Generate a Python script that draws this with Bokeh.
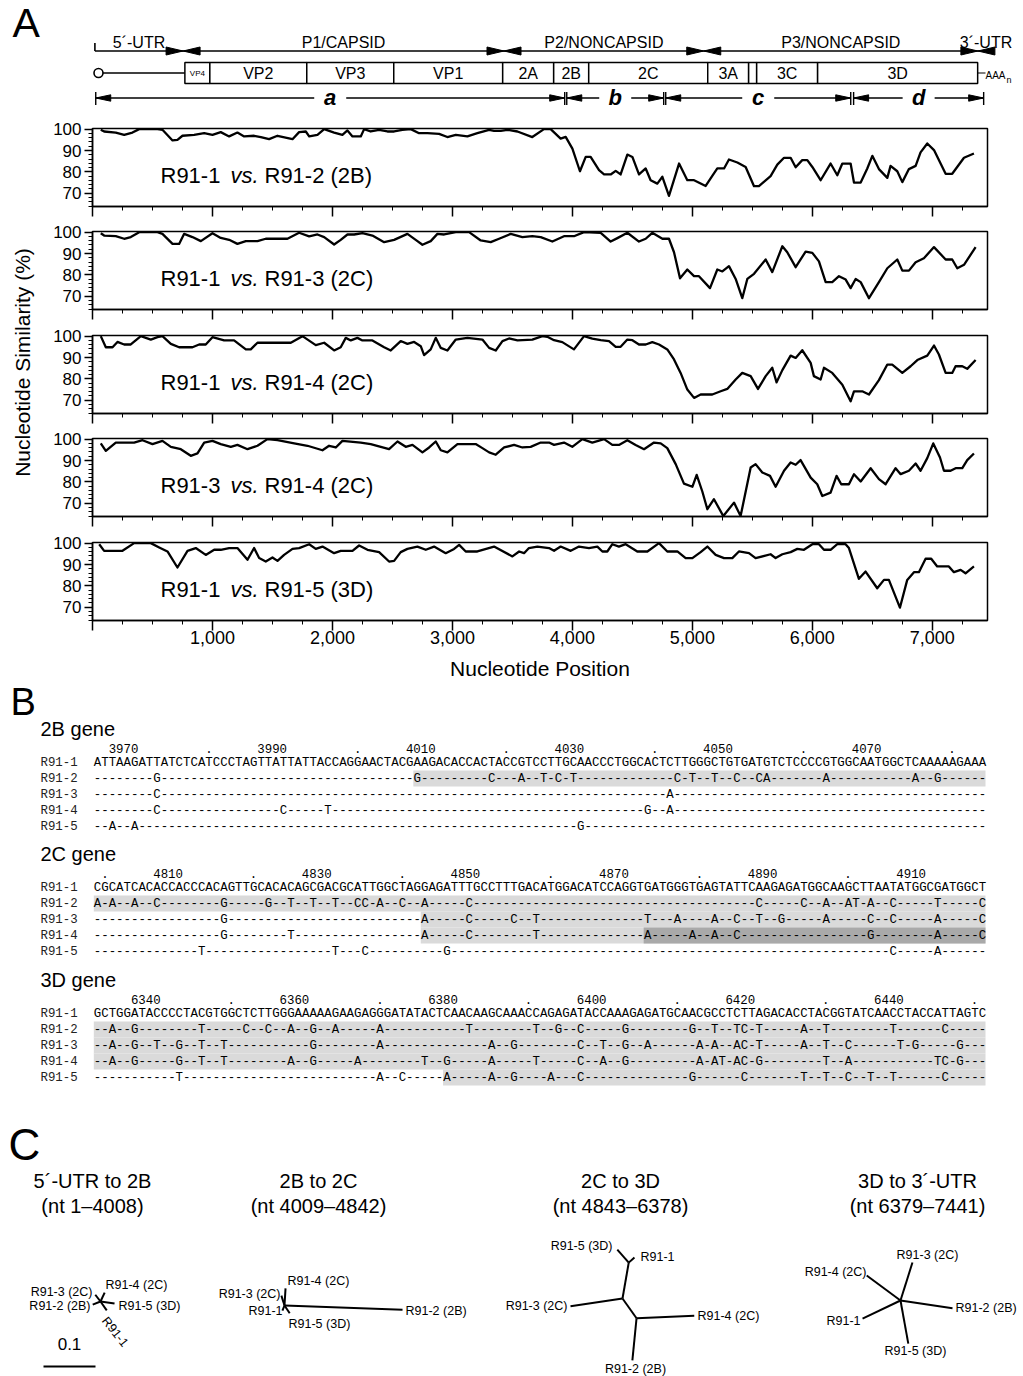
import math
from bokeh.plotting import figure
from bokeh.models import Range1d, Label, FixedTicker, NumeralTickFormatter
from bokeh.layouts import column, row
from bokeh.embed import file_html
from bokeh.resources import INLINE
from bokeh.core.properties import value

SANS = "Liberation Sans"
MONO = "Liberation Mono"

# ------------------------------------------------------------------ data: A (genome map)
regions = ["5´-UTR", "P1/CAPSID", "P2/NONCAPSID", "P3/NONCAPSID", "3´-UTR"]
region_start = [20, 755, 3430, 5095, 7380]
region_end = [755, 3430, 5095, 7380, 7515]
genes = ["VP4", "VP2", "VP3", "VP1", "2A", "2B", "2C", "3A", "", "3C", "3D"]
gene_start = [770, 978, 1786, 2511, 3419, 3844, 4136, 5128, 5469, 5536, 6044]
gene_end = [978, 1786, 2511, 3419, 3844, 4136, 5128, 5469, 5536, 6044, 7378]
segments = ["a", "b", "c", "d"]
seg_start = [27, 3953, 4778, 6344]
seg_end = [3936, 4761, 6320, 7428]

# ------------------------------------------------------------------ data: A (similarity plots)
sim_12 = [(69,99.7),(97,98.9),(194,98.4),(264,97.3),(333,98.4),(389,100),(542,100),(583,99.7),(667,94.7),(708,95.0),
 (750,96.9),(847,97.3),(931,98.1),(1000,97.3),(1069,98.6),(1139,96.6),(1208,98.4),(1264,96.6),(1347,96.9),(1403,96.3),
 (1472,95.3),(1542,96.9),(1667,95.3),(1722,98.6),(1778,98.9),(1806,96.6),(1875,97.3),(1931,100),(2014,98.4),(2083,97.3),
 (2125,99.4),(2167,96.6),(2236,96.6),(2264,100),(2319,98.9),(2389,99.7),(2458,98.9),(2514,98.9),(2583,99.7),(2653,100),
 (2722,98.1),(2792,98.1),(2889,97.8),(2958,96.3),(3028,97.3),(3125,96.6),(3208,98.1),(3306,99.7),(3347,99.2),(3403,99.2),
 (3458,99.7),(3542,98.9),(3666,96.3),(3763,100),(3819,100),(3902,95.6),(3944,96.4),(4000,90.9),(4063,80.3),(4111,87.0),
 (4152,87.0),(4222,80.8),(4264,78.8),(4319,78.8),(4361,80.5),(4402,78.8),(4458,88.1),(4500,87.0),(4555,78.8),(4611,81.6),
 (4652,76.1),(4708,74.5),(4750,77.7),(4805,68.8),(4889,83.9),(4958,76.1),(5014,76.1),(5111,73.4),(5166,78.1),(5208,81.6),
 (5264,81.6),(5305,85.8),(5375,84.4),(5444,82.3),(5514,73.3),(5555,73.3),(5652,78.0),(5708,83.4),(5764,86.6),(5819,86.6),
 (5861,82.2),(5916,85.5),(5958,85.5),(6000,82.3),(6069,76.1),(6152,83.9),(6208,78.4),(6250,83.9),(6319,83.9),(6347,75.0),
 (6403,75.0),(6458,81.6),(6500,87.5),(6555,81.3),(6625,77.2),(6652,82.8),(6708,80.3),(6750,75.2),(6805,81.3),(6861,82.8),
 (6902,89.1),(6958,93.3),(7014,90.2),(7111,79.1),(7166,79.1),(7264,86.6),(7347,88.6)]

sim_13 = [(69,99.5),(97,98.4),(194,98.1),(264,96.9),(319,97.7),(389,100),(542,100),(583,99.2),(667,94.5),(722,94.5),
 (764,99.2),(833,97.7),(903,95.8),(1000,99.5),(1069,97.3),(1139,96.4),(1208,94.5),(1278,95.8),(1375,95.8),(1444,96.9),
 (1625,96.9),(1722,99.7),(1806,98.0),(1875,98.9),(1931,97.7),(2014,94.2),(2069,96.4),(2125,98.9),(2181,98.9),(2250,99.5),
 (2333,98.4),(2431,95.3),(2514,96.4),(2625,99.2),(2694,96.4),(2750,94.1),(2819,95.8),(2875,99.2),(2931,98.9),(3028,100),
 (3139,100),(3236,96.1),(3319,95.3),(3389,96.9),(3486,99.2),(3583,97.7),(3666,98.1),(3736,97.7),(3833,95.6),(3930,98.1),
 (4013,98.1),(4097,100),(4236,99.7),(4319,95.6),(4375,97.2),(4458,99.7),(4555,95.6),(4611,96.9),(4666,99.7),(4750,96.9),
 (4805,96.9),(4847,90.6),(4897,78.4),(4958,82.5),(5014,79.4),(5055,79.4),(5147,73.8),(5208,82.5),(5250,81.6),(5305,84.1),
 (5361,78.1),(5416,69.1),(5458,78.1),(5514,80.5),(5611,87.2),(5666,81.3),(5750,93.4),(5791,90.6),(5861,83.6),(5944,90.9),
 (6000,90.3),(6055,86.3),(6111,76.6),(6166,76.6),(6222,79.4),(6278,77.8),(6319,73.8),(6361,78.1),(6403,76.6),(6472,69.1),
 (6555,76.6),(6625,83.1),(6708,87.2),(6750,82.0),(6805,82.0),(6861,85.9),(6930,87.8),(7014,93.0),(7111,87.2),(7166,87.2),
 (7208,83.1),(7264,84.7),(7361,93.0)]

sim_14 = [(69,100),(111,94.8),(167,94.8),(208,97.3),(264,96.1),(319,96.1),(403,100),(486,98.4),(542,99.5),(583,100),
 (653,96.4),(722,94.8),(833,94.8),(889,96.1),(944,96.1),(1000,99.5),(1097,98.0),(1180,98.0),(1278,93.8),(1319,93.8),
 (1375,96.9),(1458,96.9),(1653,96.9),(1750,100),(1861,95.8),(1931,96.9),(2014,93.3),(2069,94.8),(2111,99.2),(2153,98.0),
 (2208,99.2),(2250,98.0),(2333,98.0),(2431,94.8),(2486,93.3),(2569,97.7),(2625,96.4),(2681,97.3),(2736,95.3),(2764,91.1),
 (2819,93.8),(2861,99.2),(2903,94.5),(2958,93.3),(3028,98.4),(3125,99.2),(3250,98.4),(3306,94.5),(3361,93.3),(3417,97.7),
 (3472,98.9),(3542,98.0),(3666,98.4),(3750,100),(3791,99.7),(3847,98.1),(3916,97.2),(4013,93.8),(4097,100),(4166,98.8),
 (4236,98.1),(4305,97.7),(4361,95.0),(4402,95.0),(4458,98.4),(4500,98.1),(4555,96.1),(4611,96.1),(4666,97.2),(4722,96.1),
 (4791,93.8),(4847,89.1),(4902,82.8),(4958,75.0),(5014,71.1),(5069,72.7),(5166,72.7),(5236,74.2),(5291,75.3),(5361,79.7),
 (5416,82.8),(5486,81.3),(5547,75.3),(5611,81.3),(5666,85.2),(5702,78.4),(5750,84.1),(5819,90.9),(5861,89.8),(5916,93.4),
 (5986,87.5),(6013,81.3),(6069,79.7),(6097,85.2),(6166,82.8),(6250,77.3),(6319,69.5),(6347,74.2),(6416,74.2),(6472,72.7),
 (6555,79.4),(6625,86.7),(6666,86.7),(6750,82.8),(6819,85.9),(6875,88.8),(6958,90.9),(7014,95.6),(7055,91.4),(7111,82.8),
 (7166,82.8),(7194,85.9),(7250,85.9),(7291,84.7),(7361,88.8)]

sim_34 = [(69,98.0),(111,94.5),(194,98.4),(347,98.4),(417,99.5),(500,97.7),(583,99.2),(653,96.4),(736,95.3),(819,92.2),
 (875,93.3),(931,98.4),(1000,99.2),(1069,97.7),(1153,96.4),(1208,97.3),(1292,95.3),(1375,96.9),(1458,100),(1542,99.5),
 (1681,98.0),(1792,96.9),(1917,94.8),(1972,96.9),(2028,96.1),(2083,99.2),(2236,98.4),(2319,97.7),(2472,95.3),(2542,98.9),
 (2611,96.4),(2667,97.3),(2750,93.8),(2806,96.1),(2861,98.9),(2903,94.8),(2958,93.8),(3042,97.7),(3194,97.7),(3250,95.8),
 (3306,93.8),(3361,92.7),(3431,96.1),(3514,97.3),(3583,96.1),(3652,96.4),(3736,98.4),(3805,98.4),(3847,97.3),(3930,98.4),
 (3999,96.4),(4083,100),(4166,98.4),(4264,100),(4333,97.3),(4388,97.3),(4458,99.5),(4527,97.3),(4597,95.3),(4680,98.4),
 (4736,98.0),(4791,95.8),(4861,88.3),(4930,79.2),(5000,77.7),(5036,83.3),(5083,75.5),(5125,67.2),(5180,71.9),(5258,64.0),
 (5347,70.3),(5402,64.0),(5486,86.7),(5527,88.3),(5583,84.4),(5647,82.8),(5694,77.7),(5764,85.2),(5819,89.1),(5861,88.0),
 (5902,90.2),(5986,82.0),(6041,78.9),(6083,73.4),(6152,75.0),(6202,82.8),(6241,78.9),(6305,78.9),(6347,83.6),(6403,80.2),
 (6486,86.4),(6555,81.3),(6611,78.9),(6694,86.4),(6736,83.6),(6805,85.2),(6861,88.6),(6902,85.2),(6958,91.1),(7008,98.0),
 (7064,91.4),(7097,85.2),(7152,85.2),(7194,86.4),(7250,86.4),(7291,90.2),(7347,93.3)]

sim_15 = [(56,99.5),(97,96.4),(250,96.4),(347,100),(486,100),(556,98.0),(625,96.1),(708,88.6),(792,96.4),(861,97.7),
 (944,94.5),(1014,96.9),(1069,96.9),(1139,97.7),(1208,97.7),(1292,92.2),(1347,97.7),(1389,93.0),(1444,91.4),(1500,93.3),
 (1542,91.7),(1597,94.5),(1667,97.3),(1722,97.7),(1806,99.5),(1861,97.3),(1917,98.4),(2014,95.3),(2069,96.4),(2167,96.4),
 (2222,98.9),(2292,96.9),(2389,95.8),(2472,91.4),(2514,91.7),(2569,95.8),(2625,97.3),(2708,98.4),(2778,96.9),(2847,98.4),
 (2944,95.3),(3014,97.3),(3056,99.2),(3111,96.1),(3208,96.1),(3347,98.4),(3500,93.8),(3556,96.1),(3597,95.3),(3638,97.7),
 (3708,98.4),(3805,97.7),(3847,96.4),(3902,98.4),(3986,96.4),(4055,98.4),(4138,97.7),(4208,98.4),(4250,96.1),(4291,96.1),
 (4333,99.5),(4388,98.4),(4444,99.5),(4541,96.1),(4625,96.1),(4722,100),(4791,96.1),(4875,96.1),(4944,93.0),(5000,93.0),
 (5069,95.8),(5125,98.4),(5194,94.5),(5264,93.0),(5333,93.0),(5388,96.1),(5472,95.3),(5527,93.0),(5652,94.8),(5694,93.0),
 (5750,94.8),(5819,95.8),(5875,97.3),(5930,96.9),(6000,99.5),(6055,99.5),(6097,96.9),(6152,96.9),(6208,99.5),(6277,99.5),
 (6305,97.7),(6388,83.3),(6444,86.7),(6541,78.9),(6597,82.8),(6638,82.8),(6730,69.8),(6791,82.8),(6847,86.4),(6888,86.4),
 (6944,92.7),(6991,92.7),(7041,89.1),(7138,89.1),(7180,86.4),(7236,87.5),(7277,85.9),(7347,89.1)]

sim_series = [sim_12, sim_13, sim_14, sim_34, sim_15]
pair_a = ["R91-1", "R91-1", "R91-1", "R91-3", "R91-1"]
pair_b = ["R91-2 (2B)", "R91-3 (2C)", "R91-4 (2C)", "R91-4 (2C)", "R91-5 (3D)"]
x_major = [0, 1000, 2000, 3000, 4000, 5000, 6000, 7000]
y_major = [70, 80, 90, 100]

# ------------------------------------------------------------------ data: B (alignments)
strains = ["R91-1", "R91-2", "R91-3", "R91-4", "R91-5"]
blk_names = ["2B gene", "2C gene", "3D gene"]
blk_start = [3965, 4799, 6332]
blk_numbers = [[3970, 3990, 4010, 4030, 4050, 4070],
               [4810, 4830, 4850, 4870, 4890, 4910],
               [6340, 6360, 6380, 6400, 6420, 6440]]
ref_2B = "ATTAAGATTATCTCATCCCTAGTTATTATTACCAGGAACTACGAAGACACCACTACCGTCCTTGCAACCCTGGCACTCTTGGGCTGTGATGTCTCCCCGTGGCAATGGCTCAAAAAGAAA"
ref_2C = "CGCATCACACCACCCACAGTTGCACACAGCGACGCATTGGCTAGGAGATTTGCCTTTGACATGGACATCCAGGTGATGGGTGAGTATTCAAGAGATGGCAAGCTTAATATGGCGATGGCT"
ref_3D = "GCTGGATACCCCTACGTGGCTCTTGGGAAAAAGAAGAGGGATATACTCAACAAGCAAACCAGAGATACCAAAGAGATGCAACGCCTCTTAGACACCTACGGTATCAACCTACCATTAGTC"
mut_2B = [
    {8: "G", 43: "G", 53: "C", 57: "A", 60: "T", 62: "C", 64: "T", 78: "C", 80: "T", 83: "T", 86: "C", 89: "C", 90: "A", 98: "A", 110: "A", 113: "G"},
    {8: "C", 77: "A"},
    {8: "C", 25: "C", 31: "T", 74: "G", 77: "A"},
    {2: "A", 5: "A", 65: "G"},
]
mut_2C = [
    {0: "A", 2: "A", 5: "A", 8: "C", 17: "G", 23: "G", 26: "T", 29: "T", 32: "T", 35: "C", 36: "C", 38: "A", 41: "C", 44: "A", 50: "C",
     89: "C", 95: "C", 98: "A", 101: "A", 102: "T", 104: "A", 107: "C", 113: "T", 119: "C"},
    {17: "G", 44: "A", 50: "C", 56: "C", 59: "T", 74: "T", 78: "A", 83: "A", 86: "C", 89: "T", 92: "G", 98: "A", 104: "C", 107: "C", 113: "A", 119: "C"},
    {17: "G", 26: "T", 44: "A", 50: "C", 59: "T", 74: "A", 80: "A", 83: "A", 86: "C", 104: "G", 113: "A", 119: "C"},
    {14: "T", 32: "T", 36: "C", 47: "G", 107: "C", 113: "A"},
]
mut_3D = [
    {2: "A", 5: "G", 14: "T", 20: "C", 23: "C", 26: "A", 29: "G", 32: "A", 38: "A", 50: "T", 59: "T", 62: "G", 65: "C", 71: "G",
     80: "G", 83: "T", 86: "T", 87: "C", 89: "T", 95: "A", 98: "T", 107: "T", 114: "C"},
    {2: "A", 5: "G", 8: "T", 11: "G", 14: "T", 17: "T", 29: "G", 38: "A", 53: "A", 56: "G", 65: "C", 68: "T", 71: "G", 74: "A",
     81: "A", 83: "A", 86: "A", 87: "C", 89: "T", 95: "A", 98: "T", 101: "C", 108: "T", 110: "G", 116: "G"},
    {2: "A", 5: "G", 11: "G", 14: "T", 17: "T", 26: "A", 29: "G", 35: "A", 44: "T", 47: "G", 53: "A", 59: "T", 65: "C", 68: "A",
     71: "G", 81: "A", 83: "A", 84: "T", 86: "A", 87: "C", 89: "G", 98: "T", 101: "A", 113: "T", 114: "C", 116: "G"},
    {11: "T", 38: "A", 41: "C", 47: "A", 53: "A", 56: "G", 61: "A", 65: "C", 80: "G", 87: "C", 95: "T", 98: "T", 101: "C", 104: "T", 107: "T", 114: "C"},
]
blk_refs = [ref_2B, ref_2C, ref_3D]
blk_muts = [mut_2B, mut_2C, mut_3D]
# shaded stretches: (strain row, first column, last column + 1, tone)
blk_shade = [
    [(1, 43, 120, "light")],
    [(1, 0, 120, "light"), (2, 44, 120, "light"), (3, 44, 120, "light"), (3, 74, 120, "dark")],
    [(1, 0, 120, "light"), (2, 0, 120, "light"), (3, 0, 120, "light"), (4, 47, 120, "light")],
]

# ------------------------------------------------------------------ data: C (trees, branch-length units)
tree_titles = ["5´-UTR to 2B", "2B to 2C", "2C to 3D", "3D to 3´-UTR"]
tree_spans = ["(nt 1–4008)", "(nt 4009–4842)", "(nt 4843–6378)", "(nt 6379–7441)"]
tree_nodes = [
    {"r": (0, 0), "R91-3": (-0.010, -0.013), "R91-4": (0.008, -0.017), "R91-2": (-0.015, 0.006), "R91-5": (0.027, 0.004), "R91-1": (0.012, 0.017)},
    {"r": (0, 0), "R91-4": (0.002, -0.033), "R91-3": (-0.006, -0.019), "R91-1": (-0.004, 0.010), "R91-5": (0.010, 0.015), "R91-2": (0.227, 0.008)},
    {"r": (0, 0), "n1": (0.012, -0.069), "R91-5": (-0.010, -0.094), "R91-1": (0.023, -0.079), "R91-3": (-0.100, 0.015),
     "n2": (0.027, 0.038), "R91-4": (0.138, 0.033), "R91-2": (0.019, 0.119)},
    {"r": (0, 0), "R91-3": (0.023, -0.073), "R91-4": (-0.065, -0.048), "R91-2": (0.100, 0.015), "R91-1": (-0.073, 0.035), "R91-5": (0.015, 0.083)},
]
tree_edges = [
    [("r", "R91-3"), ("r", "R91-4"), ("r", "R91-2"), ("r", "R91-5"), ("r", "R91-1")],
    [("r", "R91-4"), ("r", "R91-3"), ("r", "R91-1"), ("r", "R91-5"), ("r", "R91-2")],
    [("r", "n1"), ("n1", "R91-5"), ("n1", "R91-1"), ("r", "R91-3"), ("r", "n2"), ("n2", "R91-4"), ("n2", "R91-2")],
    [("r", "R91-3"), ("r", "R91-4"), ("r", "R91-2"), ("r", "R91-1"), ("r", "R91-5")],
]
tip_names = {"R91-1": "R91-1", "R91-2": "R91-2 (2B)", "R91-3": "R91-3 (2C)", "R91-4": "R91-4 (2C)", "R91-5": "R91-5 (3D)"}
scale_bar = 0.1

# ------------------------------------------------------------------ layout constants (page pixels)
W = 1023
X0, X1 = 0, 7460
FL, FR = 92, 987          # panel frame left / right edges on the page
FW = FR - FL
PPN = FW / (X1 - X0)
YLO, YHI = 63.8, 100.3
FH = 78
YPX = FH / (YHI - YLO)
YL_W = 38                 # width of the strip holding the y-axis title


def nt_at(px):
    return X0 + (px - FL) / PPN


def canvas(w, h, xr, yr):
    p = figure(width=w, height=h, x_range=xr, y_range=yr, title=None,
               output_backend="svg", toolbar_location=None,
               x_axis_location=None, y_axis_location=None, min_border=0)
    p.xgrid.visible = False
    p.ygrid.visible = False
    p.outline_line_color = None
    p.background_fill_color = "white"
    p.border_fill_color = "white"
    return p


def txt(p, x, y, s, size, align="center", baseline="middle", style="normal", font=SANS, angle=0.0, color="black"):
    p.text(x=[x], y=[y], text=[s], text_font=value(font), text_font_size=value(size),
           text_align=align, text_baseline=baseline, text_font_style=style, angle=angle, text_color=color)


# ------------------------------------------------------------------ top strip: genome map
TOP_H = 118
top = canvas(W, TOP_H, Range1d(nt_at(0), nt_at(W)), Range1d(TOP_H, 0))
txt(top, nt_at(12), 22.5, "A", "41px", align="left")

YR = 50.5
HL, HH = 17 / PPN, 4.0
top.segment(x0=region_start, x1=region_end, y0=[YR] * 5, y1=[YR] * 5, line_color="black", line_width=1.6)
hx, hy = [], []
for i, (s, e) in enumerate(zip(region_start, region_end)):
    if i > 0:
        hx.append([s, s + HL, s + HL]); hy.append([YR, YR - HH, YR + HH])
    if i < len(regions) - 1:
        hx.append([e, e - HL, e - HL]); hy.append([YR, YR - HH, YR + HH])
top.patches(xs=hx, ys=hy, fill_color="black", line_color="black", line_width=1)
top.segment(x0=[region_start[0]], x1=[region_start[0]], y0=[YR - 8], y1=[YR], line_color="black", line_width=1.6)
for i, name in enumerate(regions):
    txt(top, (region_start[i] + region_end[i]) / 2, 41.5, name, "16px")

GY0, GY1 = 62, 83
gmid = (GY0 + GY1) / 2
top.segment(x0=[nt_at(98)], x1=[gene_start[0]], y0=[gmid], y1=[gmid], line_color="black", line_width=1.6)
top.quad(left=gene_start, right=gene_end, top=[GY0] * len(genes), bottom=[GY1] * len(genes),
         fill_color="white", line_color="black", line_width=1.5)
top.scatter(x=[nt_at(98)], y=[gmid], marker="circle", size=9, fill_color="white", line_color="black", line_width=1.6)
for i, g in enumerate(genes):
    if g:
        txt(top, (gene_start[i] + gene_end[i]) / 2, gmid + 0.5, g, "8px" if g == "VP4" else "16px")
top.segment(x0=[gene_end[-1]], x1=[nt_at(985)], y0=[gmid], y1=[gmid], line_color="black", line_width=1.2)
txt(top, nt_at(985), gmid + 2, "AAA", "10px", align="left")
txt(top, nt_at(1006), gmid + 7, "n", "9px", align="left")

SY = 97.5
GAP = 16 / PPN
HL2, HH2 = 15 / PPN, 3.2
sx0, sx1, ax, ay = [], [], [], []
for s, e, lab in zip(seg_start, seg_end, segments):
    m = (s + e) / 2
    sx0 += [s, m + GAP]; sx1 += [m - GAP, e]
    ax.append([s, s + HL2, s + HL2]); ay.append([SY, SY - HH2, SY + HH2])
    ax.append([e, e - HL2, e - HL2]); ay.append([SY, SY - HH2, SY + HH2])
    txt(top, m, SY - 1, lab, "22px", style="bold italic")
top.segment(x0=sx0, x1=sx1, y0=[SY] * len(sx0), y1=[SY] * len(sx0), line_color="black", line_width=1.4)
top.patches(xs=ax, ys=ay, fill_color="black", line_color="black", line_width=1)
ticks_x = seg_start + seg_end
top.segment(x0=ticks_x, x1=ticks_x, y0=[SY - 6] * len(ticks_x), y1=[SY + 7] * len(ticks_x), line_color="black", line_width=1.4)

# ------------------------------------------------------------------ similarity panels
xr = Range1d(X0, X1)
panel_h = [103, 104, 103, 104, 121]
panels = []
x_minor = [t for t in range(250, 7500, 250) if t % 1000 != 0]
y_minor = list(range(64, 100, 2))
for i, series in enumerate(sim_series):
    h = panel_h[i]
    last = i == len(sim_series) - 1
    p = figure(width=W - YL_W, height=h, x_range=xr, y_range=Range1d(YLO, YHI), title=None,
               output_backend="svg", toolbar_location=None,
               min_border_left=FL - YL_W, min_border_right=W - FR, min_border_top=10, min_border_bottom=h - 10 - FH)
    p.xgrid.visible = False
    p.ygrid.visible = False
    p.outline_line_color = "black"
    p.outline_line_width = 1.5
    p.background_fill_color = "white"
    p.border_fill_color = "white"
    xs = [a for a, b in series]
    ys = [b for a, b in series]
    p.line(xs, ys, line_color="black", line_width=2.3, line_join="round")

    ya = p.yaxis[0]
    ya.ticker = FixedTicker(ticks=y_major, minor_ticks=y_minor)
    ya.major_tick_out = 8; ya.major_tick_in = 0
    ya.minor_tick_out = 4; ya.minor_tick_in = 0
    ya.axis_line_width = 1.5; ya.major_tick_line_width = 1.5; ya.minor_tick_line_width = 1
    ya.major_label_text_font = SANS; ya.major_label_text_font_size = "17px"
    ya.major_label_text_color = "black"; ya.major_label_standoff = 3

    xa = p.xaxis[0]
    xa.ticker = FixedTicker(ticks=x_major, minor_ticks=x_minor)
    xa.major_tick_out = 10; xa.major_tick_in = 0
    xa.minor_tick_out = 4; xa.minor_tick_in = 0
    xa.axis_line_width = 1.5; xa.major_tick_line_width = 1.5; xa.minor_tick_line_width = 1
    if last:
        xa.formatter = NumeralTickFormatter(format="0,0")
        xa.major_label_overrides = {0: ""}
        xa.major_label_text_font = SANS; xa.major_label_text_font_size = "18px"
        xa.major_label_text_color = "black"; xa.major_label_standoff = 0
    else:
        xa.major_label_overrides = {t: "" for t in x_major}
        xa.major_label_text_font_size = "0px"
        xa.major_label_standoff = 0

    ly = YHI - 47 / YPX
    lx = nt_at(160)
    p.add_layout(Label(x=lx, y=ly, text=pair_a[i], text_font=SANS, text_font_size="22px",
                       text_baseline="middle", text_color="black"))
    p.add_layout(Label(x=lx, y=ly, x_offset=70, text="vs.", text_font=SANS, text_font_size="22px",
                       text_font_style="italic", text_baseline="middle", text_color="black"))
    p.add_layout(Label(x=lx, y=ly, x_offset=104, text=pair_b[i], text_font=SANS, text_font_size="22px",
                       text_baseline="middle", text_color="black"))
    panels.append(p)

P_BOT = TOP_H + sum(panel_h)
ylab = canvas(YL_W, sum(panel_h), Range1d(0, YL_W), Range1d(P_BOT, TOP_H))
txt(ylab, 22, 362, "Nucleotide Similarity (%)", "21px", angle=math.pi / 2)

# ------------------------------------------------------------------ B: alignments (+ x-axis title of A)
B_TOP = P_BOT
B_BOT = 1100
figB = canvas(W, B_BOT - B_TOP, Range1d(0, W), Range1d(B_BOT, B_TOP))
txt(figB, (FL + FR) / 2, 668, "Nucleotide Position", "21px")
txt(figB, 10, 701.5, "B", "38px", align="left")
SX = 93.3
NCH = 120
CW = (985.0 - SX) / NCH
RS = 16
blk_y = [728, 853, 979]
shade_col = {"light": "#dadada", "dark": "#a9a9a9"}
for b in range(3):
    gy = blk_y[b]
    ruler_y = gy + 20
    row0 = gy + 34
    rows_y = [row0 + k * RS for k in range(5)]
    txt(figB, 40, gy, blk_names[b], "20px", align="left")
    for (r, c0, c1, tone) in blk_shade[b]:
        figB.quad(left=[SX + c0 * CW], right=[SX + c1 * CW], top=[rows_y[r] - RS / 2], bottom=[rows_y[r] + RS / 2],
                  fill_color=shade_col[tone], line_color=None)
    start = blk_start[b]
    dots_x = []
    for k in range(NCH):
        pos = start + k
        if pos % 10 == 0:
            if pos in blk_numbers[b]:
                txt(figB, SX + (k + 1) * CW, ruler_y, str(pos), "12.4px", align="right", font=MONO)
            else:
                dots_x.append(SX + (k + 0.5) * CW)
    figB.text(x=dots_x, y=[ruler_y] * len(dots_x), text=["."] * len(dots_x), text_font=value(MONO),
              text_font_size=value("12.4px"), text_align="center", text_baseline="middle")
    seqs = [blk_refs[b]]
    for m in blk_muts[b]:
        chars = ["-"] * NCH
        for idx, ch in m.items():
            chars[idx] = ch
        seqs.append("".join(chars))
    figB.text(x=[40] * 5, y=rows_y, text=strains, text_font=value(MONO), text_font_size=value("12.4px"),
              text_align="left", text_baseline="middle", text_color="#222222")
    figB.text(x=[SX] * 5, y=rows_y, text=seqs, text_font=value(MONO), text_font_size=value("12.4px"),
              text_align="left", text_baseline="middle", text_color="black")

# ------------------------------------------------------------------ C: trees
U = 520.0
C_TOP, C_BOT = B_BOT, 1376
figC = canvas(W, C_BOT - C_TOP, Range1d(0, W / U), Range1d(C_BOT / U, C_TOP / U))
txt(figC, 8 / U, 1144 / U, "C", "44px", align="left")
title_cx = [92, 318, 620, 917]
for k in range(4):
    txt(figC, title_cx[k] / U, 1180 / U, tree_titles[k], "20px")
    txt(figC, title_cx[k] / U, 1205 / U, tree_spans[k], "20px")

tree_root_px = [(100, 1301), (284, 1305), (622, 1298), (900, 1300)]
tree_labels = [
    [("R91-3", 92, 1291, "right", 0.0), ("R91-4", 105, 1284, "left", 0.0), ("R91-2", 90, 1305, "right", 0.0),
     ("R91-5", 118, 1305, "left", 0.0), ("R91-1", 104, 1318, "left", -0.9)],
    [("R91-4", 287, 1280, "left", 0.0), ("R91-3", 280, 1293, "right", 0.0), ("R91-1", 282, 1310, "right", 0.0),
     ("R91-5", 288, 1323, "left", 0.0), ("R91-2", 405, 1310, "left", 0.0)],
    [("R91-5", 612, 1245, "right", 0.0), ("R91-1", 640, 1256, "left", 0.0), ("R91-3", 567, 1305, "right", 0.0),
     ("R91-4", 697, 1315, "left", 0.0), ("R91-2", 635, 1368, "center", 0.0)],
    [("R91-3", 927, 1254, "center", 0.0), ("R91-4", 866, 1271, "right", 0.0), ("R91-2", 955, 1307, "left", 0.0),
     ("R91-1", 860, 1320, "right", 0.0), ("R91-5", 915, 1350, "center", 0.0)],
]
for k in range(4):
    rx, ry = tree_root_px[k][0] / U, tree_root_px[k][1] / U
    nodes = tree_nodes[k]
    x0 = [rx + nodes[a][0] for a, b in tree_edges[k]]
    y0 = [ry + nodes[a][1] for a, b in tree_edges[k]]
    x1 = [rx + nodes[b][0] for a, b in tree_edges[k]]
    y1 = [ry + nodes[b][1] for a, b in tree_edges[k]]
    figC.segment(x0=x0, y0=y0, x1=x1, y1=y1, line_color="black", line_width=2)
    for (tip, lx, lyy, al, ang) in tree_labels[k]:
        txt(figC, lx / U, lyy / U, tip_names[tip], "12.5px", align=al, baseline="middle", angle=ang)

sb_x0, sb_y = 43 / U, 1366 / U
figC.segment(x0=[sb_x0], x1=[sb_x0 + scale_bar], y0=[sb_y], y1=[sb_y], line_color="black", line_width=2)
txt(figC, sb_x0 + scale_bar / 2, 1343 / U, str(scale_bar), "17px")

page = column(top, row(ylab, column(*panels)), figB, figC)
open("out.html", "w").write(file_html(page, INLINE, "Figure"))
